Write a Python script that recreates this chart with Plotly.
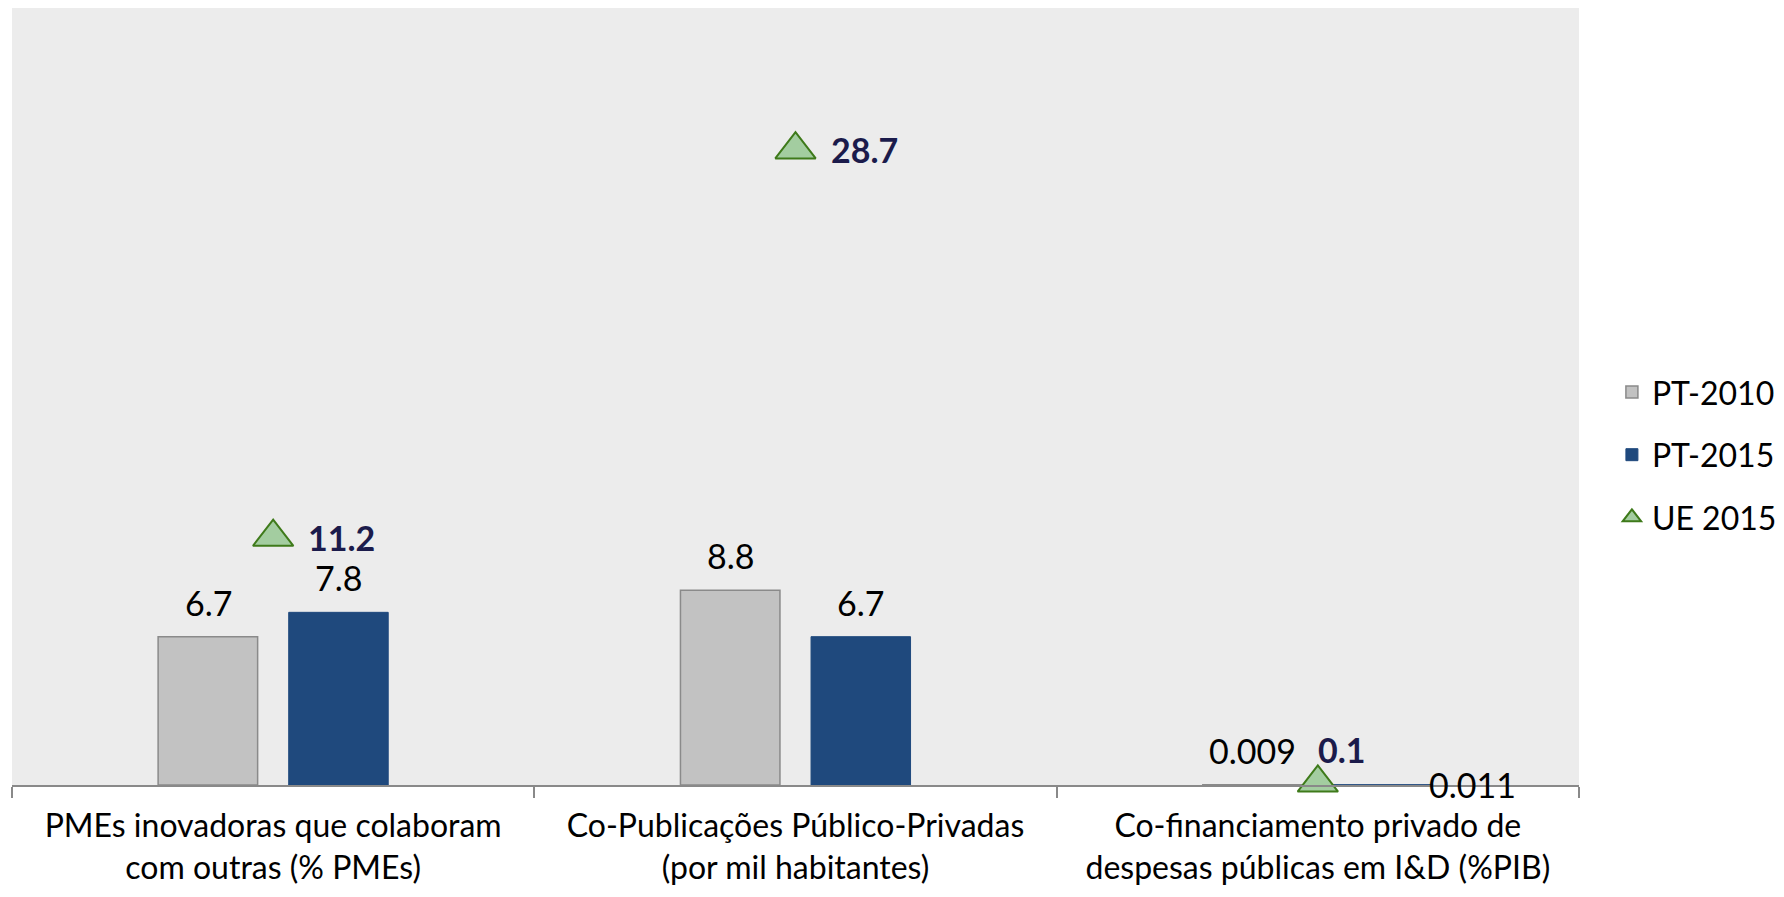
import plotly.graph_objects as go

categories = [
    "PMEs inovadoras que colaboram<br>com outras (% PMEs)",
    "Co-Publicações Público-Privadas<br>(por mil habitantes)",
    "Co-financiamento privado de<br>despesas públicas em I&D (%PIB)",
]
pt2010 = [6.7, 8.8, 0.009]
pt2015 = [7.8, 6.7, 0.011]
ue2015 = [11.2, 28.7, 0.1]
pt2010_labels = ["6.7", "8.8", "0.009"]
pt2015_labels = ["7.8", "6.7", "0.011"]
ue2015_labels = ["11.2", "28.7", "0.1"]

FONT = "Lato"
BLUE = "#1F497D"
NAVY = "#1B1B4B"

fig = go.Figure()
fig.add_trace(go.Bar(
    name="PT-2010", x=categories, y=pt2010,
    marker=dict(color="#C2C2C2", line=dict(color="#8A8A8A", width=1.5)),
    legendgroup="a", hoverinfo="skip",
))
fig.add_trace(go.Bar(
    name="PT-2015", x=categories, y=pt2015,
    marker=dict(color=BLUE, line=dict(color=BLUE, width=1)),
    legendgroup="b", hoverinfo="skip",
))
fig.add_trace(go.Scatter(
    name="UE 2015", x=categories, y=ue2015, mode="markers",
    marker=dict(symbol="triangle-up", size=35, color="#A3CDA0",
                line=dict(color="#3E7A1A", width=2)),
    legendgroup="c", hoverinfo="skip", cliponaxis=False,
))

# bar value labels
bar_xshift = 65
pt2015_label_shift = [(0, 0), (0, 0), (90, -34)]
for i, c in enumerate(categories):
    fig.add_annotation(x=c, y=pt2010[i], text=pt2010_labels[i], showarrow=False,
                       xshift=-bar_xshift, yanchor="bottom", yshift=12,
                       font=dict(family=FONT, size=34, color="#000000"))
    dx, dy = pt2015_label_shift[i]
    fig.add_annotation(x=c, y=pt2015[i], text=pt2015_labels[i], showarrow=False,
                       xshift=bar_xshift + dx, yanchor="bottom", yshift=12 + dy,
                       font=dict(family=FONT, size=34, color="#000000"))

ue_shift = [(33, 0), (33, 0), (-2, 33)]
for i, c in enumerate(categories):
    dx, dy = ue_shift[i]
    fig.add_annotation(x=c, y=ue2015[i], text="<b>" + ue2015_labels[i] + "</b>",
                       showarrow=False, xanchor="left", yanchor="middle",
                       xshift=dx, yshift=dy,
                       font=dict(family=FONT, size=34, color=NAVY))

fig.update_layout(
    width=1768, height=881,
    margin=dict(l=4, r=197, t=0, b=104, autoexpand=False),
    paper_bgcolor="#FFFFFF", plot_bgcolor="#ECECEC",
    barmode="group", bargap=0.5, bargroupgap=0.238,
    font=dict(family=FONT, size=32, color="#000000"),
    showlegend=True,
    legend=dict(x=1.021, y=0.425, xanchor="left", yanchor="middle",
                font=dict(family=FONT, size=32), traceorder="grouped",
                tracegroupgap=18, bgcolor="rgba(0,0,0,0)"),
)
fig.update_xaxes(showline=True, linecolor="#898989", linewidth=1.5,
                 ticks="outside", tickson="boundaries", ticklen=11,
                 tickcolor="#898989", tickwidth=1.5, showgrid=False,
                 ticklabelstandoff=12, automargin=False,
                 tickfont=dict(family=FONT, size=32, color="#000000"))
fig.update_yaxes(visible=False, range=[0, 35.1], showgrid=False)

fig.write_html("out.html")
